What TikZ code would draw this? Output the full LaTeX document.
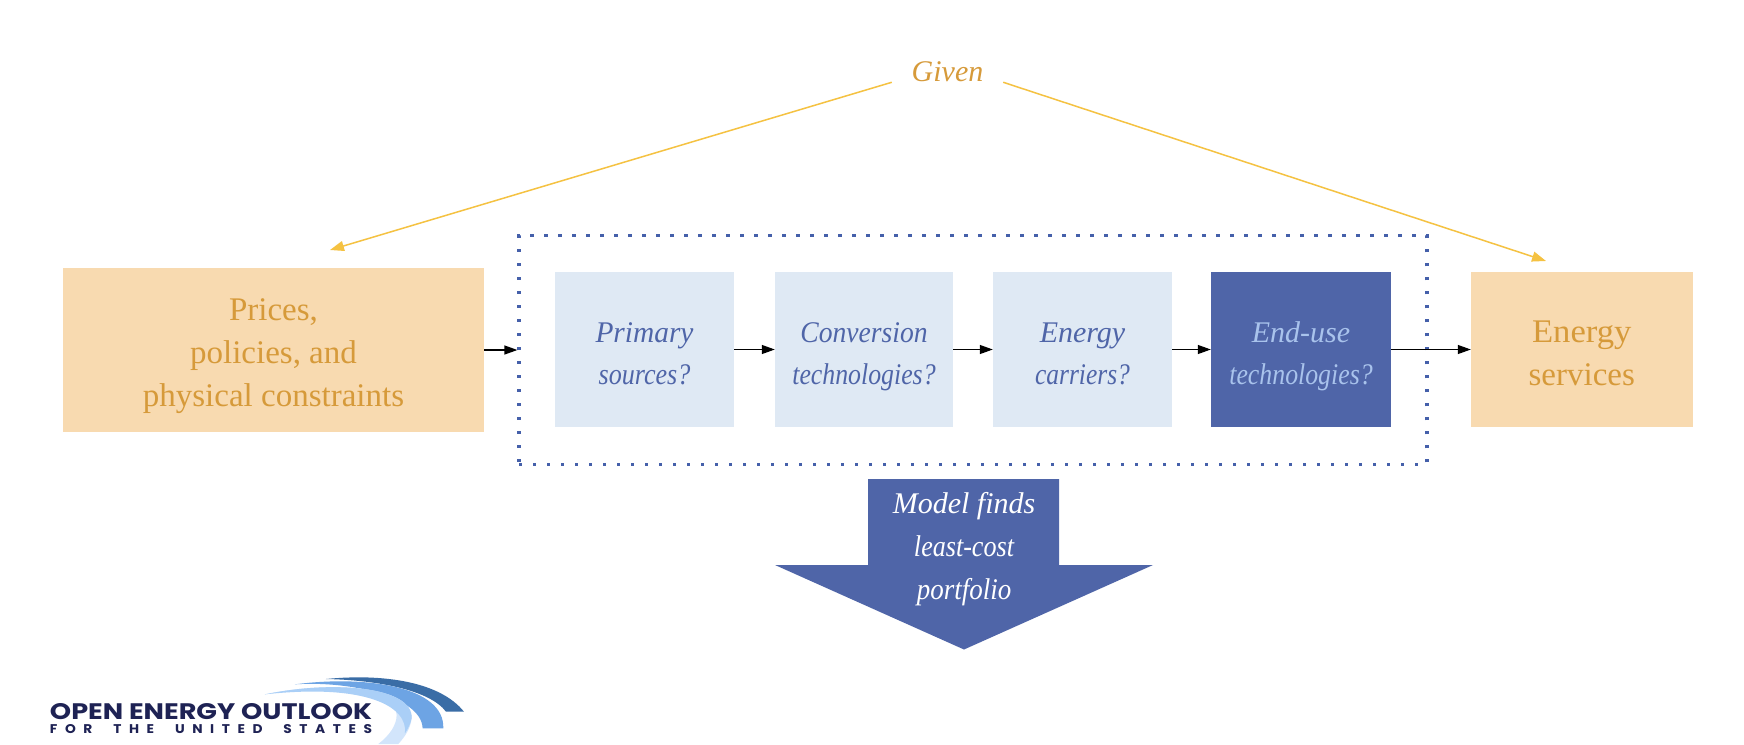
\documentclass[tikz,border=0pt]{standalone}
\usepackage{fontspec}
\setmainfont{Liberation Serif}
\newfontfamily\logofont{Poppins}
\newfontfamily\logosubfont[LetterSpace=55,WordSpace=2]{Poppins}
\usetikzlibrary{arrows.meta}
\definecolor{lightblue}{HTML}{DFE9F4}
\definecolor{darkblue}{HTML}{4F65A8}
\definecolor{dotblue}{HTML}{4560AA}
\definecolor{peach}{HTML}{F8DAB0}
\definecolor{ochre}{HTML}{D69A3A}
\definecolor{paleblue}{HTML}{A9C3EC}
\definecolor{goldline}{HTML}{F5C242}
\definecolor{logonavy}{HTML}{1E2254}
\definecolor{swoosha}{HTML}{3A6DA6}
\definecolor{swooshb}{HTML}{6DA4E4}
\definecolor{swooshc}{HTML}{AACFF7}
\definecolor{swooshd}{HTML}{D2E5FB}
\newcommand{\lw}[2]{\scalebox{#1}[1]{#2}}
\newcommand{\topstrut}{\rule{0pt}{34.5pt}}
\newcommand{\botstrut}{\rule[-6pt]{0pt}{6pt}}
\tikzset{
  qbox/.style={align=center,inner sep=0pt,fill=lightblue,text=darkblue,font=\fontsize{30}{42}\selectfont\itshape,minimum height=155pt},
  dbox/.style={qbox,fill=darkblue,text=paleblue},
  gbox/.style={align=center,inner sep=0pt,fill=peach,text=ochre,font=\fontsize{33}{43}\selectfont},
  flow/.style={black,line width=1.2pt,-{Triangle[length=13pt,width=9pt]}},
  given/.style={goldline,line width=1.5pt,-{Triangle[length=14pt,width=10pt]}}
}
\begin{document}
\begin{tikzpicture}[x=1pt,y=-1pt]
\useasboundingbox[fill=white] (0,0) rectangle (1744,744);
% logo
\begin{scope}[shift={(0,640)},x=0.3333pt,y=-0.3333pt]
\fill[swoosha] (978,117) .. controls (1150,100) and (1320,125) .. (1392,215) -- (1338,215) .. controls (1290,150) and (1130,120) .. (978,117) -- cycle;
\fill[swooshb] (885,133) .. controls (1100,105) and (1335,140) .. (1330,265) -- (1268,265) .. controls (1265,170) and (1050,122) .. (885,133) -- cycle;
\fill[swooshd] (795,163) .. controls (1000,120) and (1240,140) .. (1235,235) .. controls (1232,265) and (1215,290) .. (1195,312) -- (1135,312) .. controls (1170,285) and (1190,255) .. (1190,225) .. controls (1190,150) and (1000,130) .. (795,163) -- cycle;
\fill[swooshc] (795,163) .. controls (1000,120) and (1240,140) .. (1235,235) .. controls (1232,250) and (1225,265) .. (1215,280) .. controls (1225,200) and (1100,130) .. (795,163) -- cycle;
\end{scope}
\node[inner sep=0pt,text=logonavy] (logotitle) at (211,711.5) {\resizebox{322pt}{16pt}{\logofont\bfseries OPEN ENERGY OUTLOOK}};
\node[inner sep=0pt,text=logonavy] (logosub) at (211,729) {\resizebox{322pt}{9pt}{\fontsize{13}{13}\logosubfont\bfseries FOR THE UNITED STATES}};
% frame
\node[draw=dotblue,line width=3.2pt,dash pattern=on 3.2pt off 10.8pt,minimum width=908pt,minimum height=228.5pt,inner sep=0pt] (frame) at (973,350) {};
% boxes
\node[gbox,minimum width=421pt,minimum height=164pt] (prices) at (273.5,350) {\topstrut Prices,\\policies, and\\physical constraints\botstrut};
\node[qbox,minimum width=179pt] (primary) at (644.5,349.5) {\topstrut\lw{.98}{Primary}\\\lw{.87}{sources?}\botstrut};
\node[qbox,minimum width=178pt] (conversion) at (864,349.5) {\topstrut\lw{.92}{Conversion}\\\lw{.86}{technologies?}\botstrut};
\node[qbox,minimum width=179pt] (carriers) at (1082.5,349.5) {\topstrut Energy\\\lw{.85}{carriers?}\botstrut};
\node[dbox,minimum width=180pt] (enduse) at (1301,349.5) {\topstrut End-use\\\lw{.86}{technologies?}\botstrut};
\node[gbox,minimum width=221.5pt,minimum height=155pt] (services) at (1581.75,349.5) {\topstrut\lw{1.05}{Energy}\\services\botstrut};
% flows
\draw[flow] (prices.east) -- (frame.west);
\draw[flow] (primary.east) -- (conversion.west);
\draw[flow] (conversion.east) -- (carriers.west);
\draw[flow] (carriers.east) -- (enduse.west);
\draw[flow] (enduse.east) -- (services.west);
% given
\node[inner sep=0pt,minimum width=111pt,minimum height=18pt,text=ochre,font=\fontsize{30}{36}\selectfont\itshape] (givenlabel) at (947.5,72) {Given};
\coordinate (pricestop) at (330,250);
\coordinate (servicestop) at (1546,261);
\draw[given] (givenlabel.south west) -- (pricestop);
\draw[given] (givenlabel.south east) -- (servicestop);
% big arrow
\fill[darkblue] (868,479) -- (1059,479) -- (1059,565) -- (1153,565) -- (964,649.5) -- (775,565) -- (868,565) -- cycle;
\node[inner sep=0pt,align=center,text=white,font=\fontsize{30}{43}\selectfont\itshape] (modeltext) at (964,549.5) {Model finds\\\lw{.87}{least-cost}\\\lw{.9}{portfolio}};
\end{tikzpicture}
\end{document}
